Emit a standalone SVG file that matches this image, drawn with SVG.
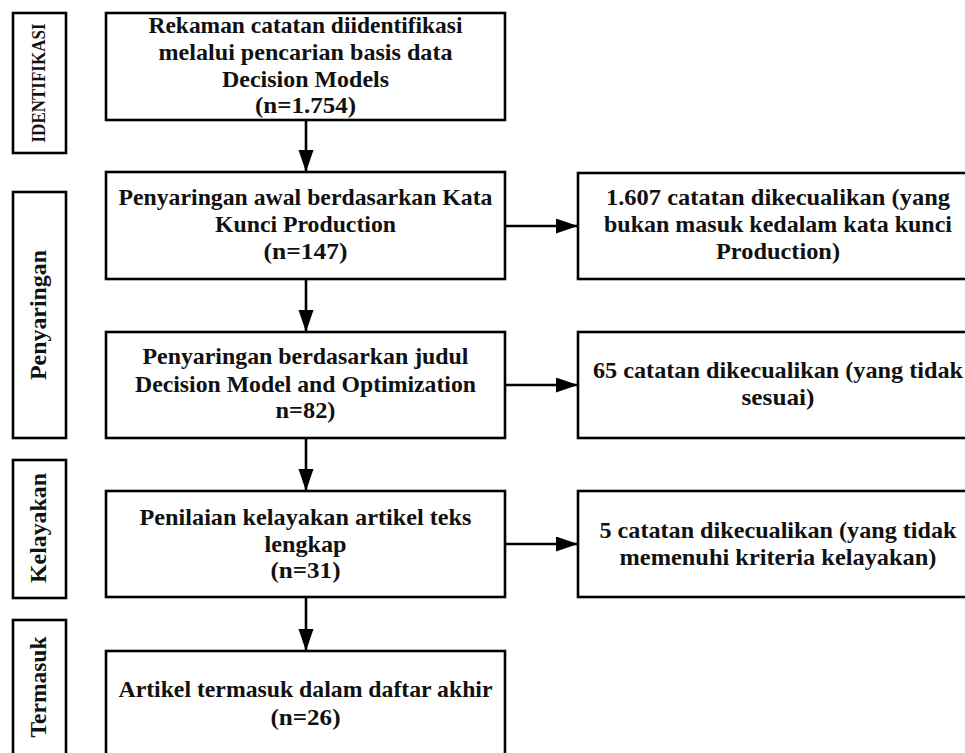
<svg xmlns="http://www.w3.org/2000/svg" width="965" height="753" viewBox="0 0 965 753">
<style>
.box{fill:#fff;stroke:#000;stroke-width:2.6}
.t{font-family:"Liberation Serif","Times New Roman",serif;font-weight:bold;font-size:23px;fill:#111;text-anchor:middle}
.lt{font-family:"Liberation Serif","Times New Roman",serif;font-weight:bold;font-size:23px;fill:#111;text-anchor:middle}
.c{stroke:#000;stroke-width:2.6;fill:none}
</style>
<defs>
<marker id="ah" markerUnits="userSpaceOnUse" markerWidth="22" markerHeight="16" refX="22" refY="7.5" orient="auto">
<path d="M0,0 L22,7.5 L0,15 Z" fill="#000"/>
</marker>
</defs>
<rect width="965" height="753" fill="#fff"/>

<g id="label-identifikasi">
<rect class="box" x="13" y="13" width="53" height="140"/>
<text class="lt" style="font-size:19px" transform="translate(45,83) rotate(-90)" textLength="119" lengthAdjust="spacingAndGlyphs">IDENTIFIKASI</text>
</g>
<g id="label-penyaringan">
<rect class="box" x="13" y="192" width="53" height="246"/>
<text class="lt" transform="translate(46,315) rotate(-90)" textLength="130" lengthAdjust="spacingAndGlyphs">Penyaringan</text>
</g>
<g id="label-kelayakan">
<rect class="box" x="13" y="460" width="53" height="138"/>
<text class="lt" transform="translate(46,528) rotate(-90)" textLength="110" lengthAdjust="spacingAndGlyphs">Kelayakan</text>
</g>
<g id="label-termasuk">
<rect class="box" x="13" y="620" width="53" height="160"/>
<text class="lt" transform="translate(46,687) rotate(-90)" textLength="101" lengthAdjust="spacingAndGlyphs">Termasuk</text>
</g>

<g id="node-identifikasi">
<rect class="box" x="106" y="13" width="399" height="107"/>
<text class="t" x="305.5" y="33" textLength="314" lengthAdjust="spacingAndGlyphs">Rekaman catatan diidentifikasi</text>
<text class="t" x="305.5" y="60" textLength="294" lengthAdjust="spacingAndGlyphs">melalui pencarian basis data</text>
<text class="t" x="305.5" y="87" textLength="167" lengthAdjust="spacingAndGlyphs">Decision Models</text>
<text class="t" x="305.5" y="113" textLength="101" lengthAdjust="spacingAndGlyphs">(n=1.754)</text>
</g>

<g id="node-penyaringan-awal">
<rect class="box" x="106" y="172" width="399" height="107"/>
<text class="t" x="305.5" y="205" textLength="374" lengthAdjust="spacingAndGlyphs">Penyaringan awal berdasarkan Kata</text>
<text class="t" x="305.5" y="232" textLength="181" lengthAdjust="spacingAndGlyphs">Kunci Production</text>
<text class="t" x="305.5" y="259" textLength="84" lengthAdjust="spacingAndGlyphs">(n=147)</text>
</g>

<g id="node-penyaringan-judul">
<rect class="box" x="106" y="332" width="399" height="106"/>
<text class="t" x="305.5" y="364" textLength="326" lengthAdjust="spacingAndGlyphs">Penyaringan berdasarkan judul</text>
<text class="t" x="305.5" y="392" textLength="341" lengthAdjust="spacingAndGlyphs">Decision Model and Optimization</text>
<text class="t" x="305.5" y="418" textLength="60" lengthAdjust="spacingAndGlyphs">n=82)</text>
</g>

<g id="node-penilaian">
<rect class="box" x="106" y="491" width="399" height="106"/>
<text class="t" x="305.5" y="525" textLength="332" lengthAdjust="spacingAndGlyphs">Penilaian kelayakan artikel teks</text>
<text class="t" x="305.5" y="552" textLength="82" lengthAdjust="spacingAndGlyphs">lengkap</text>
<text class="t" x="305.5" y="578" textLength="70" lengthAdjust="spacingAndGlyphs">(n=31)</text>
</g>

<g id="node-termasuk">
<rect class="box" x="106" y="651" width="399" height="140"/>
<text class="t" x="305.5" y="697" textLength="374" lengthAdjust="spacingAndGlyphs">Artikel termasuk dalam daftar akhir</text>
<text class="t" x="305.5" y="725" textLength="70" lengthAdjust="spacingAndGlyphs">(n=26)</text>
</g>

<g id="node-excl-1">
<rect class="box" x="578" y="173" width="400" height="106"/>
<text class="t" x="778" y="205" textLength="344" lengthAdjust="spacingAndGlyphs">1.607 catatan dikecualikan (yang</text>
<text class="t" x="778" y="232" textLength="348" lengthAdjust="spacingAndGlyphs">bukan masuk kedalam kata kunci</text>
<text class="t" x="778" y="259" textLength="124" lengthAdjust="spacingAndGlyphs">Production)</text>
</g>

<g id="node-excl-2">
<rect class="box" x="578" y="332" width="400" height="106"/>
<text class="t" x="778" y="378" textLength="370" lengthAdjust="spacingAndGlyphs">65 catatan dikecualikan (yang tidak</text>
<text class="t" x="778" y="405" textLength="73" lengthAdjust="spacingAndGlyphs">sesuai)</text>
</g>

<g id="node-excl-3">
<rect class="box" x="578" y="491" width="400" height="106"/>
<text class="t" x="778" y="538" textLength="357" lengthAdjust="spacingAndGlyphs">5 catatan dikecualikan (yang tidak</text>
<text class="t" x="778" y="565" textLength="317" lengthAdjust="spacingAndGlyphs">memenuhi kriteria kelayakan)</text>
</g>

<g id="connectors">
<line class="c" x1="306" y1="120" x2="306" y2="172" marker-end="url(#ah)"/>
<line class="c" x1="306" y1="279" x2="306" y2="332" marker-end="url(#ah)"/>
<line class="c" x1="306" y1="438" x2="306" y2="491" marker-end="url(#ah)"/>
<line class="c" x1="306" y1="597" x2="306" y2="651" marker-end="url(#ah)"/>
<line class="c" x1="505" y1="226" x2="578" y2="226" marker-end="url(#ah)"/>
<line class="c" x1="505" y1="385" x2="578" y2="385" marker-end="url(#ah)"/>
<line class="c" x1="505" y1="544" x2="578" y2="544" marker-end="url(#ah)"/>
</g>
</svg>
